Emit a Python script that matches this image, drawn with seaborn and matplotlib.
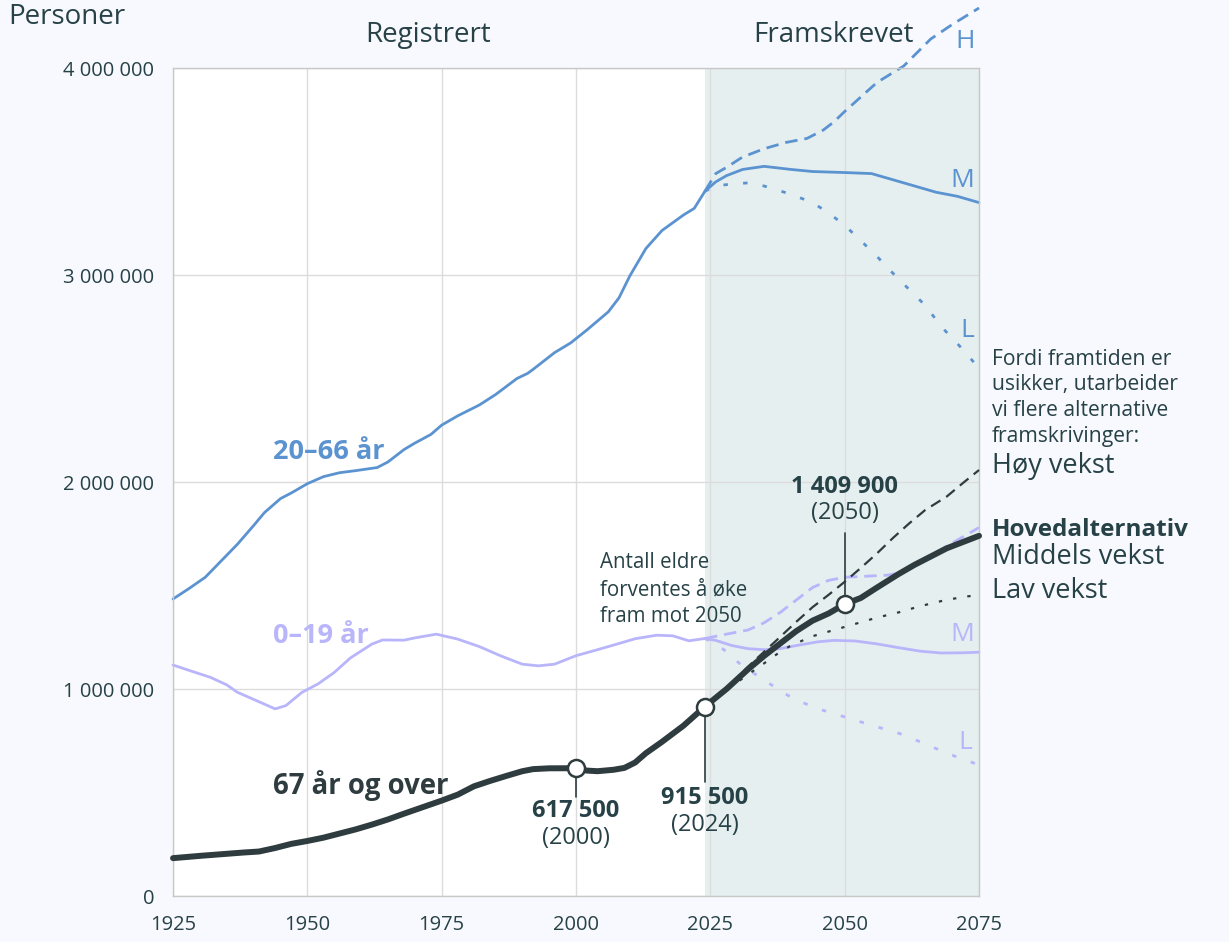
import numpy as np
import matplotlib
matplotlib.use("Agg")
import matplotlib.pyplot as plt
import seaborn as sns
from matplotlib.ticker import FuncFormatter

# registrerte tall (tusen personer)
reg_years_mid = [1925, 1928, 1931, 1934, 1937, 1940, 1942, 1945, 1947, 1950, 1953, 1956,
                 1959, 1963, 1965, 1968, 1970, 1973, 1975, 1978, 1982, 1985, 1989, 1991,
                 1992, 1996, 1999, 2002, 2006, 2008, 2010, 2013, 2016, 2020, 2022, 2024]
reg_mid = [1435, 1486, 1540, 1620, 1700, 1790, 1852, 1920, 1947, 1992, 2026, 2045,
           2055, 2070, 2097, 2157, 2188, 2230, 2275, 2320, 2372, 2422, 2500, 2525,
           2544, 2625, 2672, 2734, 2822, 2890, 2995, 3128, 3215, 3290, 3322, 3405]

reg_years_young = [1925, 1928, 1932, 1935, 1937, 1940, 1944, 1946, 1949, 1952, 1955, 1958,
                   1962, 1964, 1968, 1970, 1974, 1978, 1982, 1986, 1990, 1993, 1996, 2000,
                   2004, 2008, 2011, 2015, 2018, 2021, 2024]
reg_young = [1116, 1090, 1056, 1020, 984, 950, 904, 920, 984, 1025, 1080, 1150,
             1217, 1237, 1236, 1247, 1265, 1241, 1205, 1160, 1120, 1112, 1120, 1161,
             1190, 1220, 1243, 1260, 1257, 1233, 1244]

reg_years_old = [1925, 1930, 1935, 1938, 1941, 1944, 1947, 1950, 1953, 1956, 1959, 1962,
                 1965, 1968, 1971, 1975, 1978, 1981, 1984, 1987, 1990, 1992, 1995, 2000,
                 2002, 2004, 2007, 2009, 2011, 2013, 2016, 2020, 2024]
reg_old = [183, 194, 204, 210, 215, 232, 252, 266, 282, 302, 322, 345,
           370, 398, 425, 461, 490, 530, 556, 580, 603, 613, 617, 617.5,
           606, 603, 610, 619, 645, 690, 745, 823, 915.5]

# framskrivinger (tusen personer)
mid_m_years = [2024, 2026, 2028, 2031, 2035, 2040, 2044, 2050, 2055, 2059, 2063, 2067, 2071, 2075]
mid_m = [3405, 3450, 3480, 3510, 3525, 3510, 3500, 3495, 3490, 3460, 3430, 3400, 3380, 3350]
mid_h_years = [2024, 2026, 2028, 2031, 2035, 2039, 2043, 2046, 2048, 2050, 2053, 2056, 2061, 2066, 2070, 2075]
mid_h = [3405, 3490, 3520, 3570, 3610, 3640, 3660, 3700, 3740, 3790, 3860, 3930, 4010, 4140, 4210, 4290]
mid_l_years = [2024, 2026, 2029, 2032, 2035, 2040, 2044, 2047, 2050, 2053, 2056, 2059, 2062, 2065, 2068, 2072, 2075]
mid_l = [3405, 3430, 3440, 3445, 3430, 3390, 3350, 3300, 3240, 3166, 3090, 3008, 2930, 2853, 2750, 2640, 2549]

young_m_years = [2024, 2026, 2029, 2032, 2035, 2038, 2041, 2045, 2048, 2052, 2056, 2060, 2064, 2068, 2072, 2075]
young_m = [1244, 1235, 1210, 1195, 1190, 1195, 1210, 1228, 1235, 1232, 1218, 1200, 1183, 1174, 1175, 1178]
young_h_years = [2024, 2027, 2030, 2032, 2035, 2038, 2041, 2044, 2047, 2050, 2054, 2058, 2061, 2064, 2067, 2071, 2075]
young_h = [1244, 1260, 1275, 1285, 1320, 1370, 1430, 1490, 1525, 1540, 1545, 1550, 1565, 1610, 1660, 1720, 1780]
young_l_years = [2024, 2026, 2028, 2031, 2035, 2038, 2041, 2045, 2050, 2055, 2060, 2065, 2069, 2075]
young_l = [1244, 1220, 1180, 1110, 1045, 990, 947, 905, 865, 825, 787, 735, 690, 633]

old_m_years = [2024, 2028, 2032, 2035, 2038, 2041, 2044, 2047, 2050, 2053, 2056, 2060, 2063, 2066, 2069, 2072, 2075]
old_m = [915.5, 1000, 1095, 1160, 1220, 1280, 1330, 1365, 1409.9, 1440, 1490, 1555, 1600, 1640, 1680, 1710, 1740]
old_h_years = [2024, 2028, 2032, 2035, 2038, 2041, 2044, 2047, 2050, 2053, 2056, 2059, 2062, 2065, 2069, 2072, 2075]
old_h = [915.5, 1005, 1108, 1180, 1252, 1325, 1395, 1455, 1518, 1585, 1655, 1730, 1800, 1865, 1930, 1995, 2058]
old_l_years = [2024, 2028, 2032, 2035, 2038, 2040, 2044, 2048, 2052, 2056, 2060, 2064, 2068, 2072, 2075]
old_l = [915.5, 995, 1070, 1124, 1180, 1210, 1255, 1285, 1315, 1345, 1370, 1400, 1425, 1445, 1454]

# markerte punkter
mark_years = [2000, 2024, 2050]
mark_values = [617500, 915500, 1409900]

x_ticks = [1925, 1950, 1975, 2000, 2025, 2050, 2075]
y_ticks = [0, 1000000, 2000000, 3000000, 4000000]

BG = "#f8f9fe"
TXT = "#274247"
BLUE = "#5b93d0"
LAV = "#b9b5fa"
DARK = "#2f3c3f"
SHADE = "#e5eff0"

sns.set_style("white")
plt.rcParams['font.family'] = ['Open Sans', 'DejaVu Sans']

fig = plt.figure(figsize=(12.29, 9.42), dpi=100, facecolor=BG)
ax = fig.add_axes([0.1408, 0.0488, 0.6558, 0.879])
ax.set_facecolor("white")

ax.axvspan(2024, 2075, color=SHADE, zorder=0, lw=0)
ax.grid(True, color="#dcdcdc", lw=1)
ax.set_axisbelow(True)
for s in ax.spines.values():
    s.set_color("#c8c8c8")
    s.set_linewidth(1)


def line(xs, ys, color, lw, ls="-", z=2):
    sns.lineplot(x=xs, y=np.array(ys) * 1000, ax=ax, color=color, lw=lw,
                 linestyle=ls, clip_on=False, zorder=z, sort=False,
                 solid_joinstyle="round", solid_capstyle="round")


dash = (0, (4.5, 2.5))
dot = (0, (1.6, 5.5))

# 20-66 år
line(reg_years_mid, reg_mid, BLUE, 2.0)
line(mid_m_years, mid_m, BLUE, 2.0)
line(mid_h_years, mid_h, BLUE, 2.0, dash)
line(mid_l_years, mid_l, BLUE, 2.0, dot)

# 0-19 år
line(reg_years_young, reg_young, LAV, 2.0)
line(young_m_years, young_m, LAV, 2.0)
line(young_h_years, young_h, LAV, 2.0, dash)
line(young_l_years, young_l, LAV, 2.0, dot)

# 67 år og over
line(old_h_years, old_h, DARK, 1.6, (0, (5, 3)), z=3)
line(old_l_years, old_l, DARK, 1.6, (0, (1.5, 5)), z=3)
line(reg_years_old, reg_old, DARK, 4.3, z=4)
line(old_m_years, old_m, DARK, 4.3, z=4)

# markører med forbindelseslinjer
ax.plot([2000, 2000], [478000, 617500], color=DARK, lw=1.2, zorder=5)
ax.plot([2024, 2024], [551000, 915500], color=DARK, lw=1.2, zorder=5)
ax.plot([2050, 2050], [1409900, 1754000], color=DARK, lw=1.2, zorder=5)
sns.scatterplot(x=mark_years, y=mark_values, ax=ax, s=150, color="white",
                edgecolor=DARK, linewidth=1.8, zorder=6, clip_on=False)

ax.set_xlim(1925, 2075)
ax.set_ylim(0, 4000000)
ax.set_xticks(x_ticks)
ax.set_yticks(y_ticks)
ax.yaxis.set_major_formatter(FuncFormatter(lambda v, p: f"{int(v):,}".replace(",", " ")))
ax.tick_params(length=0, labelsize=14.5, colors=TXT)
ax.tick_params(axis="y", pad=13.5)
ax.tick_params(axis="x", pad=14)
ax.set_xlabel("")
ax.set_ylabel("")

# verdier
ax.text(2000, 410600, "617 500", ha="center", va="center", fontsize=17, fontweight="bold", color=TXT)
ax.text(2000, 280000, "(2000)", ha="center", va="center", fontsize=17, color=TXT)
ax.text(2024, 473000, "915 500", ha="center", va="center", fontsize=17, fontweight="bold", color=TXT)
ax.text(2024, 343000, "(2024)", ha="center", va="center", fontsize=17, color=TXT)
ax.text(2050, 1976000, "1 409 900", ha="center", va="center", fontsize=17, fontweight="bold", color=TXT)
ax.text(2050, 1850000, "(2050)", ha="center", va="center", fontsize=17, color=TXT)

# serieetiketter
ax.text(1943.6, 2145000, "20–66 år", ha="left", va="center", fontsize=19.5, fontweight="bold", color=BLUE)
ax.text(1943.6, 1256000, "0–19 år", ha="left", va="center", fontsize=19.5, fontweight="bold", color=LAV)
ax.text(1943.6, 536000, "67 år og over", ha="left", va="center", fontsize=19.8, fontweight="bold", color=DARK)
ax.text(2072.4, 4126000, "H", ha="center", va="center", fontsize=19, color=BLUE)
ax.text(2071.8, 3459000, "M", ha="center", va="center", fontsize=19, color=BLUE)
ax.text(2072.8, 2734000, "L", ha="center", va="center", fontsize=19, color=BLUE)
ax.text(2071.8, 1261000, "M", ha="center", va="center", fontsize=19, color=LAV)
ax.text(2072.4, 744000, "L", ha="center", va="center", fontsize=19, color=LAV)

ax.text(2004.5, 1662000, "Antall eldre\nforventes å øke\nfram mot 2050", ha="left", va="top",
        fontsize=14.8, color=TXT, linespacing=1.38)

# tekst utenfor plottet
fig.text(0.0065, 0.982, "Personer", ha="left", va="center", fontsize=20, color=TXT)
fig.text(0.3483, 0.9628, "Registrert", ha="center", va="center", fontsize=20, color=TXT)
fig.text(0.6778, 0.9628, "Framskrevet", ha="center", va="center", fontsize=20, color=TXT)
fig.text(0.807, 0.630, "Fordi framtiden er\nusikker, utarbeider\nvi flere alternative\nframskrivinger:",
         ha="left", va="top", fontsize=15.2, color=TXT, linespacing=1.3)
fig.text(0.807, 0.5053, "Høy vekst", ha="left", va="center", fontsize=19.5, color=TXT)
fig.text(0.807, 0.4374, "Hovedalternativ", ha="left", va="center", fontsize=17.5, fontweight="bold", color=TXT)
fig.text(0.807, 0.4087, "Middels vekst", ha="left", va="center", fontsize=19.5, color=TXT)
fig.text(0.807, 0.3726, "Lav vekst", ha="left", va="center", fontsize=19.5, color=TXT)

fig.savefig("out.png", dpi=100, facecolor=BG)
